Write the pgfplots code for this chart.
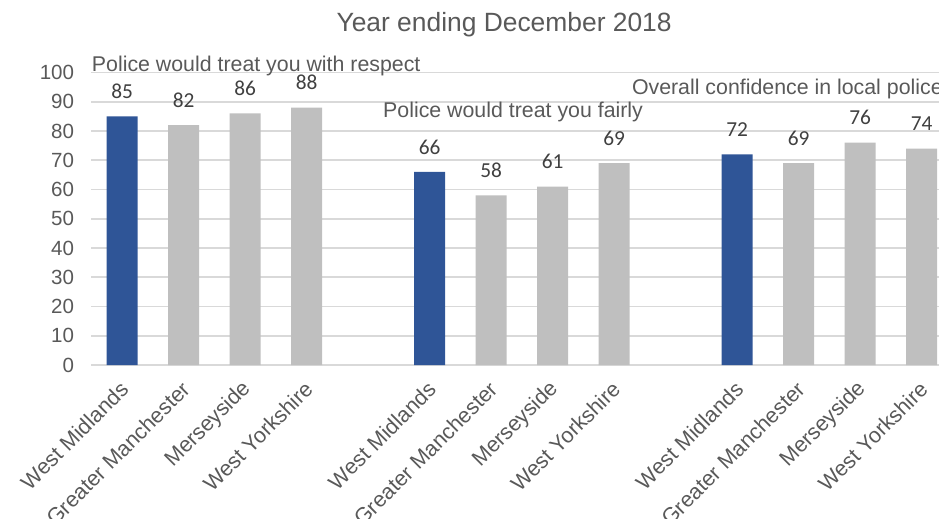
\documentclass[border=0pt]{standalone}
\usepackage{fontspec}
\setmainfont{Liberation Sans}
\newfontfamily\calibri{Carlito}
\usepackage{pgfplots}
\pgfplotsset{compat=1.18}
\definecolor{barblue}{HTML}{2F5597}
\definecolor{bargray}{HTML}{BFBFBF}
\definecolor{txtgray}{HTML}{595959}
\definecolor{lblgray}{HTML}{404040}
\definecolor{gridgray}{HTML}{D9D9D9}
\begin{document}
\begin{tikzpicture}
\path (0,0) rectangle (704.25pt,388.5pt);
\clip (0,0) rectangle (704.25pt,388.5pt);
\begin{scope}[overlay]
\begin{axis}[
  at={(68.59pt,114.75pt)}, anchor=south west,
  scale only axis,
  width=645.75pt, height=219.375pt,
  xmin=-0.5, xmax=13.5,
  ymin=0, ymax=100,
  ytick={0,10,...,100},
  xtick={0,1,2,3,5,6,7,8,10,11,12,13},
  xticklabels={West Midlands,Greater Manchester,Merseyside,West Yorkshire,
               West Midlands,Greater Manchester,Merseyside,West Yorkshire,
               West Midlands,Greater Manchester,Merseyside,West Yorkshire},
  axis line style={draw=none},
  major tick length=0pt,
  ymajorgrids,
  grid style={gridgray, line width=1.4pt},
  /pgf/number format/assume math mode=true,
  tick label style={font=\fontsize{15.4}{18}\selectfont, text=txtgray},
  yticklabel style={xshift=-9.5pt},
  xticklabel style={font=\fontsize{16.2}{19}\selectfont, xshift=4pt, yshift=-13pt, rotate=45, anchor=east},
  ybar, bar width=23.25pt, bar shift=0pt,
  clip=false,
  nodes near coords,
  nodes near coords style={font=\calibri\fontsize{16}{19}\selectfont, text=lblgray, anchor=center, yshift=18.75pt},
]
\addplot[fill=barblue, draw=none] coordinates {(0,85) (5,66) (10,72)};
\addplot[fill=bargray, draw=none] coordinates {(1,82) (2,86) (3,88) (6,58) (7,61) (8,69) (11,69) (12,76) (13,74)};
\node[anchor=base west, inner sep=0pt, text=txtgray, font=\fontsize{16}{19}\selectfont] at (axis cs:-0.496,100.5) {Police would treat you with respect};
\node[anchor=base west, inner sep=0pt, text=txtgray, font=\fontsize{16}{19}\selectfont] at (axis cs:4.24,84.6) {Police would treat you fairly};
\node[anchor=base west, inner sep=0pt, text=txtgray, font=\fontsize{16}{19}\selectfont] at (axis cs:8.285,92.6) {Overall confidence in local police};
\node[anchor=base, inner sep=0pt, text=txtgray, font=\fontsize{19.8}{24}\selectfont] at (axis cs:6.21,113.9) {Year ending December 2018};
\end{axis}
\end{scope}
\end{tikzpicture}
\end{document}
